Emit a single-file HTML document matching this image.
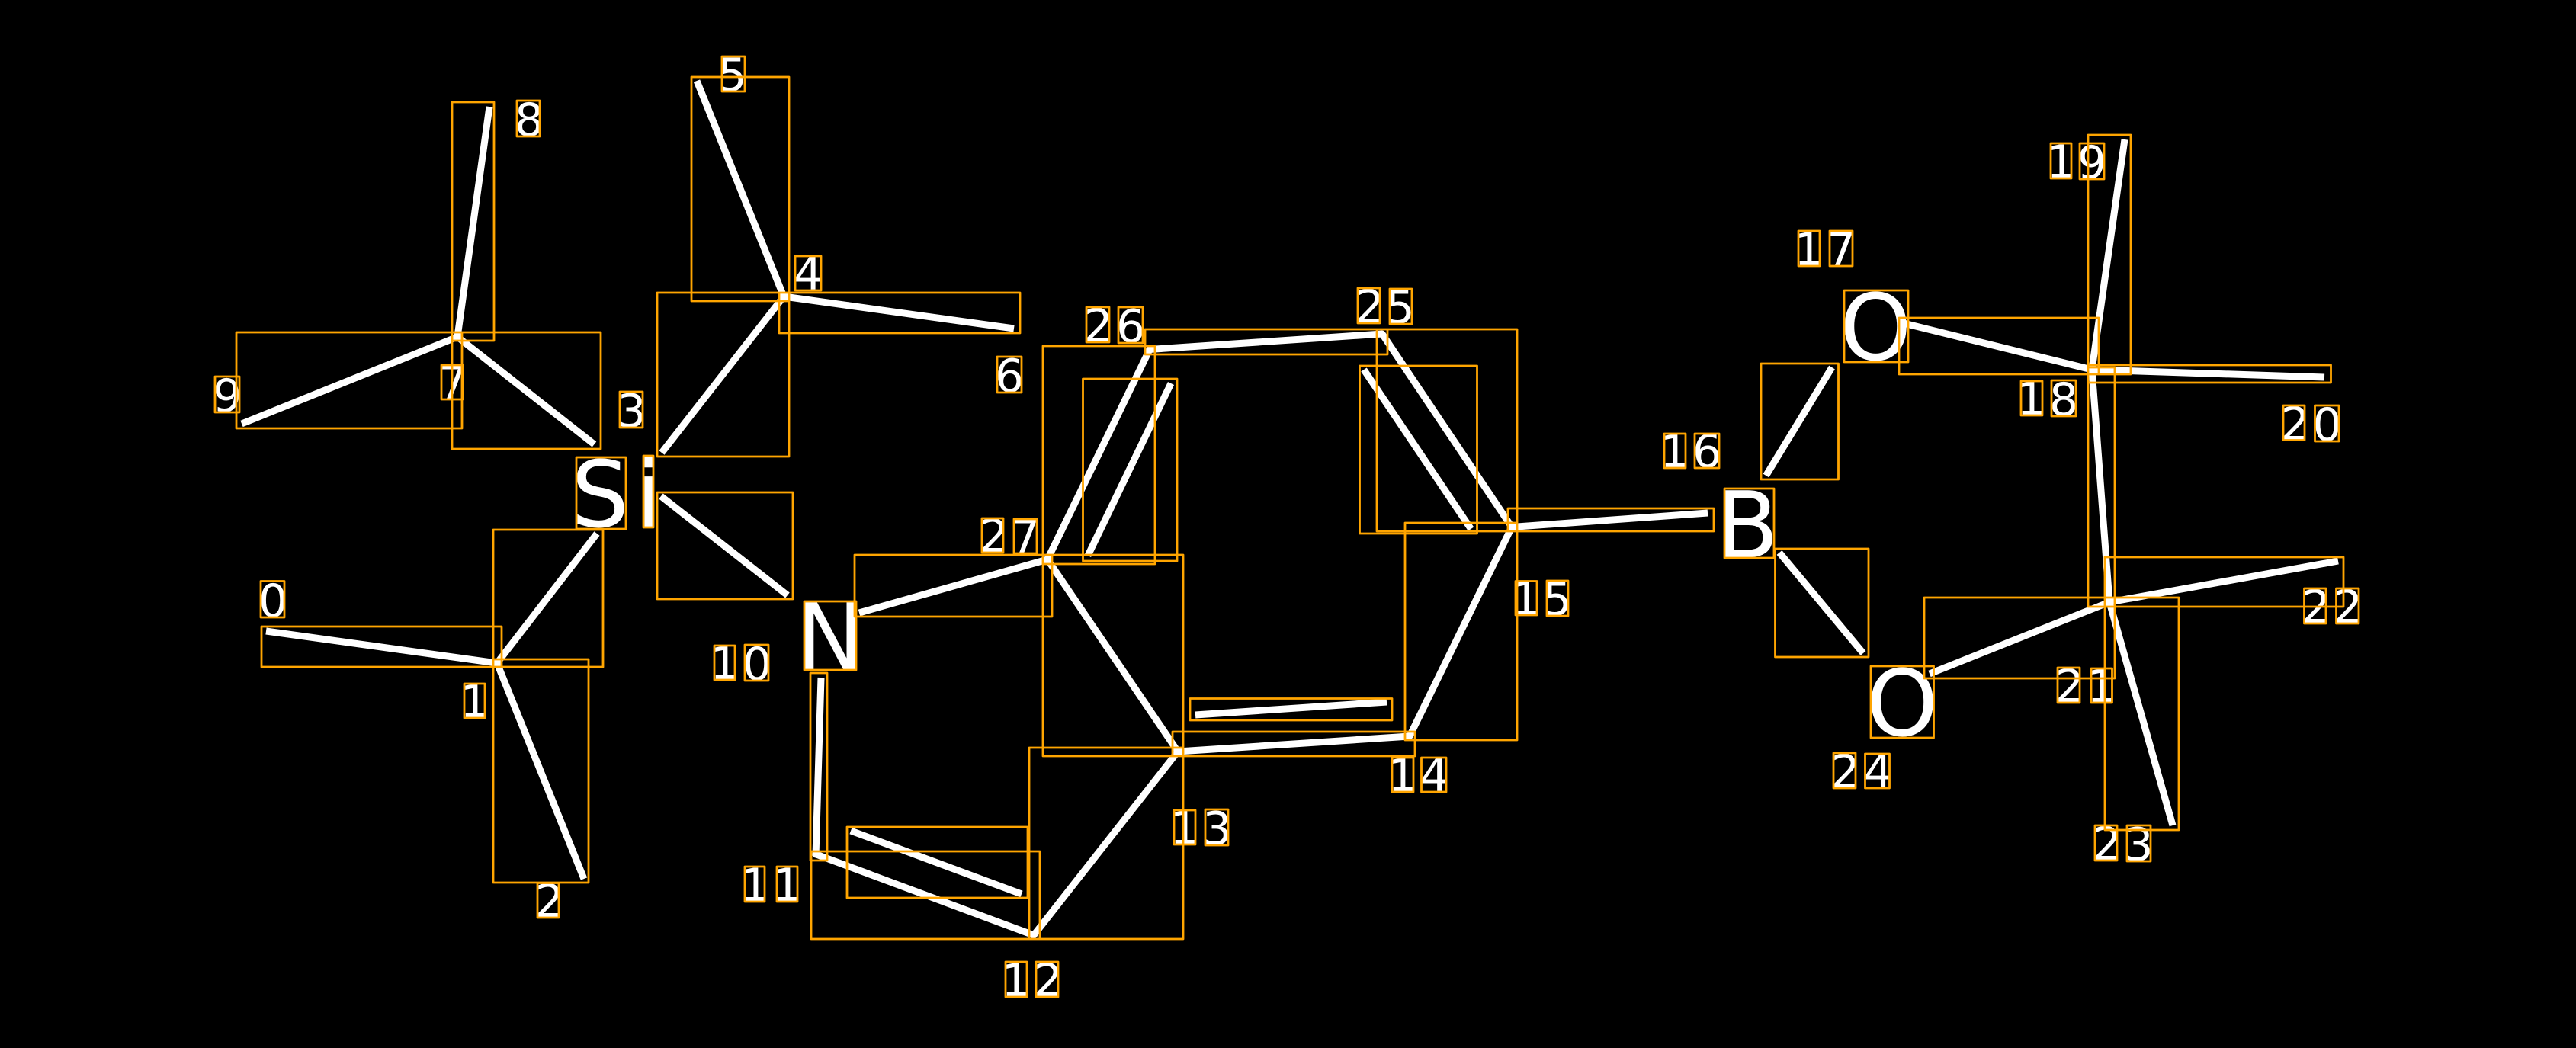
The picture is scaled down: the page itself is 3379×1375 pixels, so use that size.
<!DOCTYPE html>
<html>
<head>
<meta charset="utf-8">
<style>
html,body{margin:0;padding:0;background:#000;width:3379px;height:1375px;overflow:hidden}
svg{display:block}
text{font-family:"DejaVu Sans",sans-serif;fill:#fff;font-size:60px}
.a text{font-size:120px}
</style>
</head>
<body>
<svg xmlns="http://www.w3.org/2000/svg" width="3379" height="1375" viewBox="0 0 3379 1375">
<rect width="3379" height="1375" fill="#000"/>
<path fill="none" stroke="#fff" stroke-width="9" d="M349 828L652 870M652 870L783 700M652 870L766 1153M868 594L1028 389M1028 389L914 106M1028 389L1330 431M600 442L642 140M600 442L317 556M600 442L779.5 583M867 651L1033 781M1127 804L1374 734M1077 889L1070 1123M1068 1120L1356 1227M1116 1090L1340 1173M1356 1227L1545 986M1374 734L1545 986M1545 986L1849 966M1568 938L1819 921M1849 966L1983 691.5M1983 691.5L1813 438M1789 485L1929.5 694M1813 438L1508 458.5M1508 458.5L1374 734M1536 503L1427 729M1983 691.5L2240 673M2403 482L2316.5 624M2334 725L2444 857M2497 424L2744 485M2744 485L2787 183M2744 485L3049 495M2744 485L2767 790M2767 790L3067 736M2767 790L2531 884M2767 790L2850 1083"/>
<path fill="none" stroke="#fff" stroke-width="9" stroke-linecap="round" d="M652 870h.01M1028 389h.01M600 442h.01M1374 734h.01M1508 458.5h.01M1813 438h.01M1983 691.5h.01M1849 966h.01M1545 986h.01M1356 1227h.01M1070 1121h.01M2744 485h.01M2767 790h.01"/>
<g class="a">
<text x="749 834" y="691">Si</text>
<text x="1044" y="878">N</text>
<text x="2251" y="731">B</text>
<text x="2413" y="472">O</text>
<text x="2448" y="965">O</text>
</g>
<g>
<text x="339" y="809">0</text>
<text x="603.4" y="941">1</text>
<text x="701.6" y="1203">2</text>
<text x="809.4" y="560">3</text>
<text x="1041" y="380">4</text>
<text x="941.5" y="119">5</text>
<text x="1305" y="514">6</text>
<text x="575" y="523">7</text>
<text x="675" y="178">8</text>
<text x="279" y="540">9</text>
<text x="931.4 974" y="891 892">10</text>
<text x="971.4 1013.4" y="1182">11</text>
<text x="1313.4 1355.6" y="1307">12</text>
<text x="1534.4 1577.4" y="1107 1108">13</text>
<text x="1820.4 1862.5" y="1038">14</text>
<text x="1982.4 2023.5" y="806 807">15</text>
<text x="2177.4 2220" y="613">16</text>
<text x="2353.4 2396" y="348">17</text>
<text x="2645.4 2688" y="544 545">18</text>
<text x="2684.4 2725" y="233 234">19</text>
<text x="2991.6 3033.5" y="577 578">20</text>
<text x="2695.6 2737.4" y="921">21</text>
<text x="3019 3061" y="817">22</text>
<text x="2744.6 2786.4" y="1128 1129">23</text>
<text x="2401.6 2444.5" y="1033">24</text>
<text x="1777.6 1817.5" y="423 424">25</text>
<text x="1421.6 1464" y="448 449">26</text>
<text x="1284.6 1326" y="724 725">27</text>
</g>
<path fill="none" stroke="#FFA500" stroke-width="2.8" stroke-linejoin="round" d="M593 134h55v313h-55zM310 436h296v126h-296zM593 436h195v153h-195zM907 101h128v294h-128zM862 384h173v215h-173zM1022 384h316v53h-316zM862 646h178v140h-178zM647 695h144v180h-144zM343 822h315v53h-315zM647 865h125v293h-125zM1121 728h259v81h-259zM1063 883h22v246h-22zM1064 1117h300v115h-300zM1350 981h202v251h-202zM1111 1085h237v93h-237zM1368 454h147v286h-147zM1420.5 497h123.5v239h-123.5zM1502 432h318v33h-318zM1806 432h184v265h-184zM1783.5 480h154v220h-154zM1368 728h184v264h-184zM1538 960h318v32h-318zM1561 916.5h265v28.5h-265zM1843 686h147v285h-147zM1978 667h270v30h-270zM2310 477h101.5v152h-101.5zM2328.5 720h122.5v142h-122.5zM2491 417h262v74h-262zM2739 177h56v314h-56zM2739 479h318.5v23h-318.5zM2739 482h35v314h-35zM2761 731h313v65h-313zM2524 784h250v106h-250zM2761 784h97v305h-97z"/>
<path fill="none" stroke="#FFA500" stroke-width="2.8" stroke-linejoin="round" d="M756 600h65v94h-65zM844 598h13v94h-13zM1055 789h68v90h-68zM2262 641h65v91h-65zM2419 381h84v94h-84zM2454 874h82.5v94h-82.5zM342 762.5h31v47.5h-31zM609 897h27v45h-27zM705 1158.5h28v45.5h-28zM813 514h30v47h-30zM1043 336h34v45h-34zM947 74h30v46h-30zM1308 468h32v47h-32zM579 479h28v45h-28zM678 132h30v47h-30zM282 494h32v47h-32zM937 847h27v45h-27zM977 846h31v47h-31zM977 1137h26v46h-26zM1019 1137h27v46h-27zM1319 1262h28v46h-28zM1359 1262h29v46h-29zM1540 1063h28v45h-28zM1581 1062h30v47h-30zM1826 994h28v45h-28zM1864.5 994h32.5v45h-32.5zM1988 762.5h28v44.5h-28zM2029 762h28v46h-28zM2183 569h28v45h-28zM2223 569h32v45h-32zM2359 303h28v46h-28zM2400 303h30v46h-30zM2651 500h28v45h-28zM2691 499h32v47h-32zM2690 188h27v46h-27zM2728 188h32v47h-32zM2995 532h28v45.5h-28zM3036.5 532h31.5v47h-31.5zM2699 876h29v46h-29zM2743 877h27.5v45h-27.5zM3022.5 772h28.5v46h-28.5zM3064.5 772h29.5v46h-29.5zM2748 1083h29v46h-29zM2790 1083h31v47h-31zM2405 988h29v46h-29zM2446.5 989h32v45h-32zM1781 378h29v46h-29zM1823 379h29v46h-29zM1425 403h30v46h-30zM1467 403h32v47h-32zM1288 680h28v45h-28zM1330 681h30v45h-30z"/>
</svg>
</body>
</html>
